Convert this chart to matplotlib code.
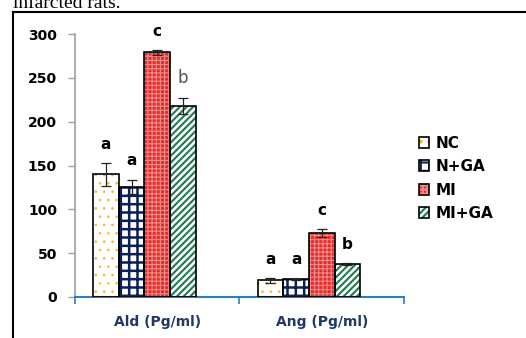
import matplotlib
matplotlib.use("Agg")
import matplotlib.pyplot as plt
from matplotlib.patches import Patch
from matplotlib.lines import Line2D
import numpy as np

categories = ["Ald (Pg/ml)", "Ang (Pg/ml)"]
series = ["NC", "N+GA", "MI", "MI+GA"]
values = {
    "NC":    [140, 19],
    "N+GA":  [126, 20],
    "MI":    [279, 73],
    "MI+GA": [218, 38],
}
errors = {
    "NC":    [13, 3],
    "N+GA":  [8, 1],
    "MI":    [3, 4],
    "MI+GA": [9, 1],
}
letters = {
    "NC":    ["a", "a"],
    "N+GA":  ["a", "a"],
    "MI":    ["c", "c"],
    "MI+GA": ["b", "b"],
}
yticks = [0, 50, 100, 150, 200, 250, 300]

styles = {
    "NC":    dict(face="white", hatch="..", hcol="#F2B829", hlw=0.6),
    "N+GA":  dict(face="white", hatch="++", hcol="#0B1F5C", hlw=1.8),
    "MI":    dict(face="#E0302E", hatch="++++", hcol="#F58A88", hlw=0.8),
    "MI+GA": dict(face="white", hatch="/////", hcol="#1E7A4C", hlw=1.5),
}

fig = plt.figure(figsize=(5.26, 3.38), dpi=100)
ax = fig.add_axes([75/526, 1-297/338, (404-75)/526, (297-34)/338])

w = 0.156
gap = (1 - 5*w) / 2
for i, s in enumerate(series):
    xs = np.arange(len(categories)) + gap + w*(i + 0.5)
    st = styles[s]
    plt.rcParams['hatch.linewidth'] = st["hlw"]
    ax.bar(xs, values[s], width=w, color=st["face"], edgecolor=st["hcol"],
           hatch=st["hatch"], linewidth=0, zorder=2)
    ax.bar(xs, values[s], width=w, fill=False, edgecolor="black",
           linewidth=1.2, zorder=3)
    ax.errorbar(xs, values[s], yerr=errors[s], fmt="none", ecolor="#222222",
                elinewidth=0.9, capsize=3.3, capthick=0.9, zorder=4)
    for x, v, e, l in zip(xs, values[s], errors[s], letters[s]):
        grey = (s == "MI+GA" and x < 1)
        ax.annotate(l, (x, v + e), xytext=(0, 8), textcoords="offset points",
                    ha="center", va="bottom", fontsize=12 if grey else 11,
                    fontweight="normal" if grey else "bold",
                    color="#555555" if grey else "black", zorder=5)

ax.set_xlim(0, 2)
ax.set_ylim(0, 300)
ax.set_yticks(yticks)
ax.set_yticklabels([str(t) for t in yticks], fontsize=10, fontweight="bold")
ax.tick_params(axis="y", length=5, width=1, color="#A0A0A0", pad=8)
ax.set_xticks([0, 1, 2])
ax.set_xticklabels([])
ax.tick_params(axis="x", which="major", length=5, width=1.2, color="#2E7BC6")
ax.set_xticks([0.5, 1.5], minor=True)
ax.set_xticklabels(categories, minor=True, fontsize=10, fontweight="bold",
                   color="#1F3864")
ax.tick_params(axis="x", which="minor", length=0, pad=13)
for sp in ["top", "right"]:
    ax.spines[sp].set_visible(False)
ax.spines["left"].set_color("#A0A0A0")
ax.spines["left"].set_linewidth(1.2)
ax.spines["bottom"].set_color("#2E7BC6")
ax.spines["bottom"].set_linewidth(1.5)

handles = []
for s in series:
    plt.rcParams['hatch.linewidth'] = styles[s]["hlw"]
    handles.append(Patch(facecolor=styles[s]["face"], edgecolor=styles[s]["hcol"],
                         hatch=styles[s]["hatch"], linewidth=0))
frames = [Patch(fill=False, edgecolor="black", linewidth=1.2) for s in series]
leg = fig.legend([(h, f) for h, f in zip(handles, frames)], series,
                 loc="upper left", bbox_to_anchor=(405/526, 1-122/338),
                 frameon=False, prop=dict(size=11, weight="bold"),
                 handlelength=0.7, handleheight=0.7, handletextpad=0.4,
                 labelspacing=0.55)

# page frame
fig.add_artist(Line2D([12.5/526, 12.5/526], [0, 1-12/338], color="black",
                      linewidth=1.5, transform=fig.transFigure))
fig.add_artist(Line2D([12.5/526, 1], [1-12/338, 1-12/338], color="black",
                      linewidth=1.5, transform=fig.transFigure))
fig.text(13/526, 1-8/338, "infarcted rats.", family="Liberation Serif",
         fontsize=14, va="baseline", ha="left")

fig.savefig("out.png", dpi=100)
